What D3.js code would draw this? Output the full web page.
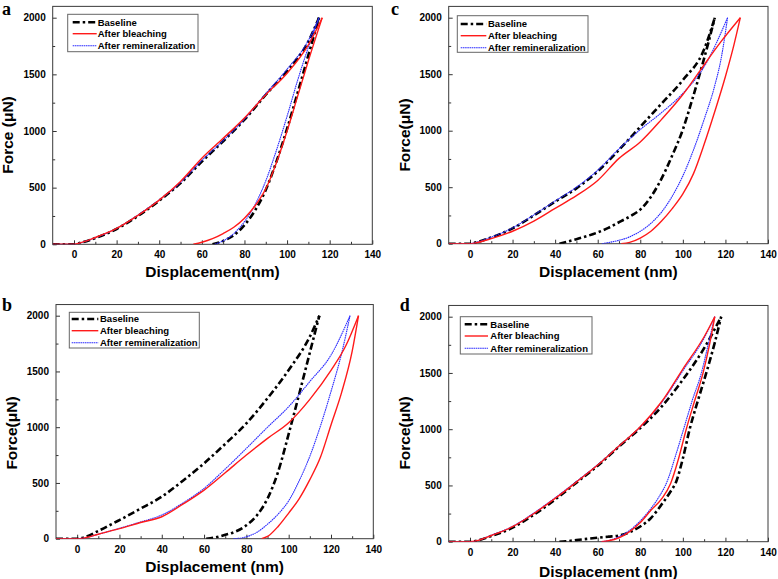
<!DOCTYPE html>
<html><head><meta charset="utf-8">
<script src="https://cdnjs.cloudflare.com/ajax/libs/d3/7.8.5/d3.min.js"></script>
<style>body{margin:0;background:#fff}svg{display:block}</style>
</head><body>
<svg id="c" width="778" height="579"></svg>
<script>
// ---- data ----
const seriesNames = ["Baseline", "After bleaching", "After remineralization"];
const xTicks = [0, 20, 40, 60, 80, 100, 120, 140];
const xMinor = [10, 30, 50, 70, 90, 110, 130];
const yTicks = [0, 500, 1000, 1500, 2000];
const yMinor = [250, 750, 1250, 1750];

// panel a
const aBaseLoad = [[-10,0],[0,0],[2,8],[10,55],[20,135],[30,250],[40,385],[50,540],[60,730],[70,910],[80,1100],[90,1320],[100,1530],[110,1790],[115,2000]];
const aBaseUnload = [[65,0],[70,30],[75,80],[80,170],[85,300],[90,480],[95,730],[100,1020],[105,1340],[110,1670],[115,2000]];
const aRedLoad = [[-10,0],[0,0],[2,8],[10,60],[20,140],[30,255],[40,390],[50,555],[60,760],[70,935],[80,1115],[90,1320],[100,1510],[110,1760],[116.5,2000]];
const aRedUnload = [[56,0],[60,18],[65,50],[70,95],[75,150],[80,230],[85,340],[90,490],[95,720],[100,1000],[105,1310],[110,1620],[116.5,2000]];
const aBlueLoad = [[-10,0],[0,0],[2,8],[10,58],[20,140],[30,258],[40,392],[50,545],[60,740],[70,915],[80,1105],[90,1330],[100,1545],[110,1800],[115,2000]];
const aBlueUnload = [[66,0],[70,30],[75,95],[80,200],[85,350],[90,560],[95,830],[100,1130],[105,1450],[110,1740],[115,2000]];

// panel c
const cBaseLoad = [[-10,0],[0,0],[2,8],[10,55],[20,136],[30,250],[40,372],[50,490],[60,640],[70,830],[80,1035],[90,1240],[100,1448],[110,1720],[115,2000]];
const cBaseUnload = [[42,0],[50,40],[60,100],[65,140],[71,200],[76,250],[80.5,310],[85.2,420],[89,540],[95,780],[100,1010],[104,1250],[107.9,1500],[112,1780],[115,2000]];
const cRedLoad = [[-10,0],[0,0],[2,5],[10,45],[20,110],[30,200],[40,313],[50,425],[60,560],[70,755],[80,900],[90,1100],[100,1320],[108,1530],[118,1790],[127,2000]];
const cRedUnload = [[71,0],[75,12],[80,50],[85,110],[90,200],[95,310],[100,440],[105,620],[110,880],[115,1170],[120,1480],[124,1760],[127,2000]];
const cBlueLoad = [[-10,0],[0,0],[2,8],[10,58],[20,140],[30,255],[40,378],[50,500],[60,650],[70,840],[80,1010],[90,1160],[100,1330],[110,1566],[121,2000]];
const cBlueUnload = [[62,0],[65,10],[70,30],[75,60],[80,110],[85,180],[90,280],[95,420],[100,600],[105,830],[110,1100],[115,1400],[118,1640],[121,2000]];

// panel b
const bBaseLoad = [[-10,0],[0,0],[3,10],[10,70],[20,167],[30,270],[40,377],[50,520],[60,676],[70,850],[80,1034],[90,1260],[100,1513],[110,1812],[114.5,2000]];
const bBaseUnload = [[61,0],[65,10],[70,35],[75,65],[80,120],[85,210],[90,360],[95,600],[100,940],[105,1300],[110,1670],[114.5,2000]];
const bRedLoad = [[-10,0],[0,0],[3,5],[10,40],[20,90],[30,145],[40,197],[50,310],[60,436],[70,592],[80,750],[90,900],[100,1040],[110,1250],[120,1510],[127,1730],[133,2000]];
const bRedUnload = [[87.2,0],[90,20],[95,110],[100,230],[105,360],[110,530],[115,730],[120,1020],[125,1310],[130,1680],[133,2000]];
const bBlueLoad = [[-10,0],[0,0],[3,5],[10,40],[20,93],[30,150],[40,212],[50,320],[60,451],[70,625],[80,810],[90,1000],[100,1184],[110,1410],[120,1647],[129,2000]];
const bBlueUnload = [[73.8,0],[78,8],[82,30],[86,70],[90,130],[95,220],[100,340],[105,520],[110,740],[115,1010],[120,1320],[125,1660],[129,2000]];

// panel d
const dBaseLoad = [[-10,0],[0,0],[3,8],[10,50],[20,125],[30,240],[40,375],[50,525],[60,675],[70,845],[80,1010],[90,1200],[100,1440],[110,1720],[118,2000]];
const dBaseUnload = [[42,0],[45,3],[50,15],[55,25],[60,35],[65,45],[70,55],[75,85],[80,135],[85,210],[90,330],[94,440],[97,540],[100,740],[103.2,1000],[107,1250],[111,1500],[115,1770],[118,2000]];
const dRedLoad = [[-10,0],[0,0],[3,8],[10,55],[20,133],[30,250],[40,385],[50,530],[60,681],[70,850],[80,1022],[90,1244],[100,1535],[110,1822],[115,2000]];
const dRedUnload = [[61.7,0],[65,8],[70,35],[75,90],[80,170],[85,280],[90,380],[94.3,520],[98,740],[101.6,1000],[105.5,1250],[109.5,1500],[112.5,1750],[115,2000]];
const dBlueLoad = [[-10,0],[0,0],[3,8],[10,57],[20,136],[30,255],[40,390],[50,535],[60,684],[70,850],[80,1020],[90,1236],[100,1520],[110,1810],[115,2000]];
const dBlueUnload = [[61.7,0],[65,10],[70,45],[75,100],[80,185],[84.4,280],[88.5,390],[92.7,540],[96.5,760],[100.5,1010],[104.5,1260],[108.7,1500],[112,1760],[115,2000]];

// ---- layout ----
const panels = [
  {letter:"a", lx:2, ly:14.5, x0:52.7, x1:372.3, y0:244.3, y2000:17.7, xTitle:"Displacement(nm)", yTitle:"Force (\u03bcN)", xtY:277, ytX:13.3, ytY:135,
   legend:{x:67.7, y:14.3, w:130.3, h:37.4, rows:[22.3,33.7,45.7], sx:72.7, sw:24, tx:97.7},
   curves:[[aBaseLoad,aBaseUnload],[aRedLoad,aRedUnload],[aBlueLoad,aBlueUnload]]},
  {letter:"c", lx:391, ly:14.5, x0:448.7, x1:768, y0:243.7, y2000:17.7, xTitle:"Displacement (nm)", yTitle:"Force(\u03bcN)", xtY:276.7, ytX:409.5, ytY:135,
   legend:{x:457.3, y:15.7, w:130.7, h:36.6, rows:[24,35.7,47.7], sx:460.7, sw:25.6, tx:488},
   curves:[[cBaseLoad,cBaseUnload],[cRedLoad,cRedUnload],[cBlueLoad,cBlueUnload]]},
  {letter:"b", lx:2, ly:310.5, x0:56, x1:373.3, y0:538.7, y2000:315.7, xTitle:"Displacement (nm)", yTitle:"Force(\u03bcN)", xtY:571.7, ytX:16.5, ytY:433,
   legend:{x:69.3, y:312.3, w:130, h:35.7, rows:[319,330.7,342.7], sx:71.7, sw:26.6, tx:100},
   curves:[[bBaseLoad,bBaseUnload],[bRedLoad,bRedUnload],[bBlueLoad,bBlueUnload]]},
  {letter:"d", lx:399.7, ly:310.5, x0:448.7, x1:768, y0:541.7, y2000:316.7, xTitle:"Displacement (nm)", yTitle:"Force(\u03bcN)", xtY:576.7, ytX:409.5, ytY:433,
   legend:{x:460.3, y:316.7, w:131.7, h:37.3, rows:[324.3,336,348.3], sx:464.7, sw:23.3, tx:490.3},
   curves:[[dBaseLoad,dBaseUnload],[dRedLoad,dRedUnload],[dBlueLoad,dBlueUnload]]}
];

const styles = [
  {color:"#000", width:2.6, dash:"7,3,2.5,3"},
  {color:"#ff1a1a", width:1.4, dash:null},
  {color:"#2a2aff", width:1.1, dash:"1.6,0.6"}
];
const drawOrder = [0, 2, 1];

const svg = d3.select("#c");
const font = "'Liberation Sans', Arial, sans-serif";

panels.forEach(p => {
  const x = d3.scaleLinear().domain([-10, 140]).range([p.x0, p.x1]);
  const y = d3.scaleLinear().domain([0, 2000]).range([p.y0, p.y2000]);
  const yTop = y(2100);
  const g = svg.append("g");

  const cid = "clip" + p.letter;
  svg.append("clipPath").attr("id", cid).append("rect")
    .attr("x", p.x0).attr("y", yTop).attr("width", p.x1 - p.x0).attr("height", p.y0 - yTop);

  const xAxis = d3.axisBottom(x).tickValues(xTicks).tickSize(-4).tickPadding(7).tickFormat(d3.format("d"));
  const gx = g.append("g").attr("transform", `translate(0,${p.y0})`).call(xAxis);
  const xAxisMinor = d3.axisBottom(x).tickValues(xMinor).tickSize(-2.5).tickFormat("");
  const gxm = g.append("g").attr("transform", `translate(0,${p.y0})`).call(xAxisMinor);
  const yAxis = d3.axisLeft(y).tickValues(yTicks).tickSize(-4).tickPadding(7).tickFormat(d3.format("d"));
  const gy = g.append("g").attr("transform", `translate(${p.x0},0)`).call(yAxis);
  const yAxisMinor = d3.axisLeft(y).tickValues(yMinor).tickSize(-2.5).tickFormat("");
  const gym = g.append("g").attr("transform", `translate(${p.x0},0)`).call(yAxisMinor);
  [gx, gxm, gy, gym].forEach(a => {
    a.select(".domain").remove();
    a.selectAll(".tick line").attr("stroke", "#333").attr("stroke-width", 1);
    a.selectAll(".tick text").attr("fill", "#000").style("font-family", font).style("font-weight", "bold").style("font-size", "10px");
  });

  g.append("rect").attr("x", p.x0).attr("y", yTop).attr("width", p.x1 - p.x0).attr("height", p.y0 - yTop)
    .attr("fill", "none").attr("stroke", "#3a3a3a").attr("stroke-width", 1);

  const line = d3.line().x(d => x(d[0])).y(d => y(d[1])).curve(d3.curveMonotoneX);
  const cg = g.append("g").attr("clip-path", `url(#${cid})`);
  drawOrder.forEach(si => {
    const st = styles[si];
    p.curves[si].forEach(arr => {
      cg.append("path").attr("d", line(arr)).attr("fill", "none")
        .attr("stroke", st.color).attr("stroke-width", st.width)
        .attr("stroke-dasharray", st.dash).attr("stroke-linejoin", "round");
    });
  });

  const L = p.legend;
  g.append("rect").attr("x", L.x).attr("y", L.y).attr("width", L.w).attr("height", L.h)
    .attr("fill", "#fff").attr("stroke", "#666").attr("stroke-width", 1);
  seriesNames.forEach((name, i) => {
    const st = styles[i];
    g.append("line").attr("x1", L.sx).attr("x2", L.sx + L.sw).attr("y1", L.rows[i]).attr("y2", L.rows[i])
      .attr("stroke", st.color).attr("stroke-width", st.width).attr("stroke-dasharray", st.dash);
    g.append("text").attr("x", L.tx).attr("y", L.rows[i] + 3.4).text(name)
      .style("font-family", font).style("font-weight", "bold").style("font-size", "9.5px");
  });

  g.append("text").attr("x", (p.x0 + p.x1) / 2).attr("y", p.xtY).attr("text-anchor", "middle")
    .text(p.xTitle).style("font-family", font).style("font-weight", "bold").style("font-size", "15.5px");
  g.append("text").attr("transform", `translate(${p.ytX},${p.ytY}) rotate(-90)`).attr("text-anchor", "middle")
    .text(p.yTitle).style("font-family", font).style("font-weight", "bold").style("font-size", "15.5px");
  g.append("text").attr("x", p.lx).attr("y", p.ly).text(p.letter)
    .style("font-family", "'Liberation Serif', 'Times New Roman', serif").style("font-weight", "bold").style("font-size", "18px");
});
</script>
</body></html>
